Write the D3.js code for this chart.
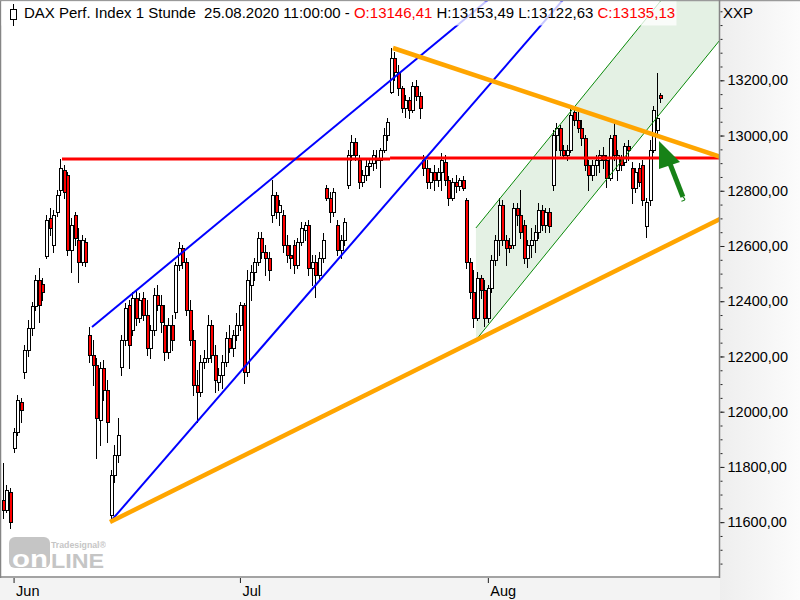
<!DOCTYPE html>
<html><head><meta charset="utf-8">
<script src="https://cdn.jsdelivr.net/npm/d3@7"></script>
<style>
body{margin:0;background:#fff}
svg{display:block}
text{font-family:"Liberation Sans",Arial,sans-serif}
</style>
</head><body>
<svg id="c" width="800" height="600"></svg>
<script>
// ---------------- DATA ----------------
const instrument = "DAX Perf. Index 1 Stunde";
const lastStamp = "25.08.2020 11:00:00";
const axisCode = "XXP";
const tradingDays = ["2020-05-29",
 "2020-06-02","2020-06-03","2020-06-04","2020-06-05","2020-06-08","2020-06-09","2020-06-10","2020-06-11","2020-06-12",
 "2020-06-15","2020-06-16","2020-06-17","2020-06-18","2020-06-19","2020-06-22","2020-06-23","2020-06-24","2020-06-25","2020-06-26",
 "2020-06-29","2020-06-30",
 "2020-07-01","2020-07-02","2020-07-03","2020-07-06","2020-07-07","2020-07-08","2020-07-09","2020-07-10","2020-07-13","2020-07-14",
 "2020-07-15","2020-07-16","2020-07-17","2020-07-20","2020-07-21","2020-07-22","2020-07-23","2020-07-24","2020-07-27","2020-07-28",
 "2020-07-29","2020-07-30","2020-07-31",
 "2020-08-03","2020-08-04","2020-08-05","2020-08-06","2020-08-07","2020-08-10","2020-08-11","2020-08-12","2020-08-13","2020-08-14",
 "2020-08-17","2020-08-18","2020-08-19","2020-08-20","2020-08-21","2020-08-24","2020-08-25"];
const barsPerDay = 3;
const monthCodes = ["06","07","08"];
const monthNames = ["Jun","Jul","Aug"];

const opens = [11680,11644,11709, 11869,11927,12035, 12144,12224,12303, 12383,12477,12462, 12564,12701,12604,
 12723,12803,12875, 12857,12586,12712, 12622,12542,12615, 12278,12205,12169, 11970,12158,12079,
 11626,11771,11843, 12162,12260,12386, 12296,12412,12339, 12412,12350,12231, 12296,12423,12386,
 12314,12216,12314, 12361,12531,12593, 12542,12368,12260, 12097,12071,12180, 12194,12314,12205,
 12108,12133,12180, 12267,12231,12278, 12314,12386,12144, 12459,12506,12542, 12629,12578,12557,
 12712,12785,12723, 12712,12604,12568, 12604,12531,12615, 12658,12676,12520, 12542,12495,12557,
 12810,12774,12723, 12676,12586,12622, 12821,12929,12977, 12911,12832,12857, 12890,12901,12919,
 12911,12948,13002, 13158,13281,13230, 13172,13100,13129, 13092,13179,13143, 12911,12882,12832,
 12868,12839,12868, 12904,12839,12774, 12832,12817,12839, 12767,12542,12433, 12339,12484,12441,
 12339,12448,12549, 12622,12749,12622, 12604,12604,12738, 12712,12676,12557, 12604,12622,12651,
 12730,12676,12723, 12821,13002,13027, 12948,12929,12948, 13085,13056,13027, 12991,12893,12857,
 12893,12911,12929, 12911,12846,13002, 12875,12919,12904, 12962,12882,12810, 12882,12893,12672,
 12767,12948,13020, 13146.41];
const highs = [11814,11735,11724, 11941,12061,12050, 12242,12332,12397, 12495,12520,12484, 12712,12738,12730,
 12803,12915,12893, 12868,12701,12723, 12665,12640,12629, 12307,12260,12194, 12180,12187,12115,
 11789,11880,11977, 12278,12394,12405, 12433,12441,12430, 12433,12405,12314, 12448,12459,12423,
 12386,12339,12350, 12542,12615,12604, 12557,12405,12296, 12151,12205,12224, 12350,12332,12242,
 12158,12205,12289, 12314,12296,12357, 12397,12394,12513, 12531,12557,12651, 12651,12604,12578,
 12839,12796,12767, 12730,12640,12604, 12622,12629,12687, 12687,12694,12568, 12568,12578,12647,
 12821,12796,12810, 12694,12640,12701, 12948,13002,12991, 12929,12875,12911, 12911,12948,12948,
 12955,13027,13063, 13316,13302,13255, 13179,13147,13140, 13194,13201,13158, 12929,12911,12882,
 12893,12882,12937, 12929,12853,12846, 12857,12846,12853, 12774,12557,12513, 12506,12495,12477,
 12459,12568,12640, 12774,12767,12640, 12629,12756,12756, 12803,12694,12622, 12665,12676,12756,
 12749,12738,12738, 13020,13045,13038, 12966,12966,13099, 13100,13085,13056, 13002,12911,12911,
 12929,12948,12958, 12929,13002,13056, 12948,12929,12973, 12984,12904,12882, 12901,12911,12774,
 12984,13107,13226, 13153.49];
const lows = [11615,11637,11579, 11854,11916,11963, 12122,12202,12278, 12368,12325,12405, 12557,12640,12578,
 12709,12785,12774, 12568,12506,12604, 12470,12531,12528, 12180,12097,11832, 11880,12042,11890,
 11604,11745,11818, 12133,12242,12158, 12278,12314,12325, 12332,12205,12194, 12278,12368,12289,
 12187,12194,12224, 12339,12513,12520, 12350,12242,12061, 11963,12057,12158, 12180,12180,12071,
 12079,12086,12165, 12216,12202,12260, 12296,12104,12129, 12405,12477,12531, 12557,12495,12477,
 12687,12701,12676, 12578,12542,12520, 12502,12520,12604, 12622,12495,12459, 12415,12477,12542,
 12767,12687,12709, 12568,12557,12604, 12810,12911,12911, 12810,12817,12839, 12857,12875,12882,
 12814,12940,12984, 13154,13201,13147, 13085,13067,13063, 13085,13129,13063, 12857,12810,12810,
 12803,12817,12803, 12821,12749,12767, 12796,12803,12803, 12520,12412,12307, 12332,12412,12310,
 12325,12434,12531, 12568,12604,12531, 12578,12593,12676, 12629,12538,12524, 12560,12578,12629,
 12658,12651,12651, 12803,12948,12929, 12919,12911,12940, 13038,13013,12966, 12875,12803,12839,
 12857,12868,12882, 12814,12839,12911, 12839,12875,12893, 12911,12756,12796, 12817,12749,12633,
 12749,12940,13006, 13122.63];
const closes = [11644,11717,11601, 11927,12042,12006, 12224,12303,12383, 12477,12386,12434, 12694,12665,12712,
 12785,12882,12796, 12586,12676,12629, 12542,12622,12542, 12205,12169,11977, 12158,12079,11963,
 11771,11843,11916, 12260,12376,12242, 12412,12339,12405, 12350,12231,12296, 12423,12386,12325,
 12216,12314,12260, 12531,12593,12542, 12368,12260,12097, 12071,12180,12194, 12314,12205,12115,
 12133,12180,12267, 12231,12278,12314, 12386,12144,12477, 12506,12542,12629, 12578,12557,12513,
 12785,12723,12749, 12604,12568,12557, 12531,12615,12665, 12676,12520,12542, 12495,12557,12622,
 12774,12723,12796, 12586,12622,12687, 12929,12977,12929, 12832,12857,12890, 12901,12929,12911,
 12948,13002,13049, 13281,13230,13172, 13100,13129,13092, 13179,13143,13100, 12882,12832,12868,
 12839,12868,12911, 12839,12774,12832, 12817,12839,12810, 12542,12433,12339, 12484,12441,12339,
 12448,12549,12622, 12749,12622,12593, 12593,12738,12712, 12651,12557,12604, 12622,12651,12730,
 12676,12723,12672, 13002,13027,12948, 12929,12948,13074, 13056,13027,12991, 12893,12857,12893,
 12911,12929,12911, 12846,12991,12929, 12929,12893,12962, 12948,12810,12868, 12832,12767,12759,
 12948,13092,13063, 13135.13];

const priceTicks = [11600,11800,12000,12200,12400,12600,12800,13000,13200];
const minorTickStep = 50;

// drawing-tool anchors: [bar index, price]
const blueLines   = [[24.55,12306.7, 120.57,13338.7],[29.84,11604.3, 121.4,12977.7]];
const orangeLines = [[29.56,11600.6, 198.8,12694.2],[108.32,13317.0, 198.8,12925.9]];
const redLevels   = [[16.2,107.5,12915],[107.5,199.5,12919]];
const channelBars  = [131.4, 198.8];
const channelLower = [12259.7, 13337.6];
const channelUpper = [12665.2, 13743.1];
const arrowHead  = [[182.35,12980],[182.35,12879],[188.2,12904]];
const arrowShaft = [[185.3,12902],[189.0,12778]];
const arrowHook  = [[189.0,12778],[189.9,12767],[188.6,12762]];

// ---------------- CHART ----------------
const svg = d3.select("#c");
const plotR = 719, plotB = 577;
const x = d3.scaleLinear().domain([-0.5, 199.5]).range([2, 720.6]);
const y = d3.scaleLinear().domain([11401.4, 13490.8]).range([plotB, 0]);
const fmt2 = v => d3.format(".2f")(v).replace(".", ",");
const lineAt = (a, i) => a[1] + (a[3]-a[1])*(i-a[0])/(a[2]-a[0]);

const defs = svg.append("defs");
const gr = defs.append("linearGradient").attr("id","panel").attr("x1","0").attr("x2","1").attr("y1","0").attr("y2","0");
gr.append("stop").attr("offset","0").attr("stop-color","#eeeeee");
gr.append("stop").attr("offset","1").attr("stop-color","#fcfcfc");
defs.append("clipPath").attr("id","clip").append("rect").attr("x",1).attr("y",1).attr("width",plotR-1).attr("height",plotB-1);

svg.append("rect").attr("width",800).attr("height",600).attr("fill","#fff");
svg.append("rect").attr("x",720).attr("y",0).attr("width",80).attr("height",600).attr("fill","url(#panel)");
svg.append("rect").attr("x",0).attr("y",578).attr("width",720).attr("height",22).attr("fill","#f3f3f3");

const g = svg.append("g").attr("clip-path","url(#clip)");

// green channel fill
const iEnd = 199.5;
const chLo = [channelBars[0], channelLower[0], channelBars[1], channelLower[1]];
const chUp = [channelBars[0], channelUpper[0], channelBars[1], channelUpper[1]];
g.append("path")
  .attr("d", d3.line()([
    [x(chLo[0]), y(chLo[1])], [x(chUp[0]), y(chUp[1])],
    [x(iEnd), y(lineAt(chUp, iEnd))], [x(iEnd), y(lineAt(chLo, iEnd))]
  ]) + "Z")
  .attr("fill","#e4f1e4");

// watermark logo
const logo = svg.append("g").attr("opacity",0.85);
logo.append("rect").attr("x",9).attr("y",537).attr("width",41).attr("height",31).attr("rx",6).attr("fill","#bcbcbc");
logo.append("text").attr("x",12).attr("y",567).attr("font-size",24).attr("font-weight","bold")
  .attr("textLength",36).attr("lengthAdjust","spacingAndGlyphs").attr("fill","#fff").text("on");
logo.append("text").attr("x",51).attr("y",568).attr("font-size",20).attr("font-weight","bold")
  .attr("textLength",53).attr("lengthAdjust","spacingAndGlyphs").attr("fill","#bcbcbc").text("LINE");
logo.append("text").attr("x",51).attr("y",548).attr("font-size",9.5).attr("font-weight","bold")
  .attr("textLength",55).attr("lengthAdjust","spacingAndGlyphs").attr("fill","#bcbcbc").text("Tradesignal®");

// candles
const bars = opens.map((o,i)=>({i, o, h:Math.max(highs[i],o,closes[i]), l:Math.min(lows[i],o,closes[i]), c:closes[i]}));
const cg = g.append("g").attr("shape-rendering","crispEdges");
bars.forEach(b => {
  const px = Math.round(x(b.i));
  const top = Math.round(y(Math.max(b.o,b.c))), bot = Math.round(y(Math.min(b.o,b.c)));
  cg.append("line").attr("x1",px-0.5).attr("x2",px-0.5)
    .attr("y1",Math.round(y(b.h))).attr("y2",Math.round(y(b.l))+1).attr("stroke","#000");
  cg.append("rect").attr("x",px-1.5).attr("y",top+0.5).attr("width",3).attr("height",Math.max(bot-top,1))
    .attr("fill", b.c < b.o ? "#ff0000" : "#ffffff").attr("stroke","#000").attr("stroke-width",1);
});

// channel lines
[chLo, chUp].forEach(a => g.append("line")
  .attr("x1",x(a[0])).attr("y1",y(a[1])).attr("x2",x(iEnd)).attr("y2",y(lineAt(a,iEnd)))
  .attr("stroke","#0a8a0a").attr("stroke-width",1));

// red horizontal
redLevels.forEach(r => g.append("line").attr("x1",x(r[0])).attr("x2",x(r[1])).attr("y1",y(r[2])).attr("y2",y(r[2]))
  .attr("stroke","#ff0000").attr("stroke-width",3));

// blue lines
blueLines.forEach(a => g.append("line")
  .attr("x1",x(a[0])).attr("y1",y(a[1])).attr("x2",x(iEnd)).attr("y2",y(lineAt(a,iEnd)))
  .attr("stroke","#0000ff").attr("stroke-width",2));

// orange lines
orangeLines.forEach(a => g.append("line")
  .attr("x1",x(a[0])).attr("y1",y(a[1])).attr("x2",x(iEnd)).attr("y2",y(lineAt(a,iEnd)))
  .attr("stroke","#ffa500").attr("stroke-width",4.5));

// arrow
const arrowColor = "#178217";
g.append("path").attr("d", d3.line()(arrowHead.map(p=>[x(p[0]),y(p[1])]))+"Z").attr("fill",arrowColor);
g.append("line").attr("x1",x(arrowShaft[0][0])).attr("y1",y(arrowShaft[0][1]))
  .attr("x2",x(arrowShaft[1][0])).attr("y2",y(arrowShaft[1][1])).attr("stroke",arrowColor).attr("stroke-width",5);
g.append("path").attr("d", d3.line().curve(d3.curveBasis)(arrowHook.map(p=>[x(p[0]),y(p[1])])))
  .attr("fill","none").attr("stroke",arrowColor).attr("stroke-width",1.2);

// frame
svg.append("line").attr("x1",0.5).attr("x2",0.5).attr("y1",0).attr("y2",578).attr("stroke","#858585").attr("stroke-width",1.5);
svg.append("line").attr("x1",0).attr("x2",800).attr("y1",0.5).attr("y2",0.5).attr("stroke","#9a9a9a").attr("stroke-width",1.5);
svg.append("line").attr("x1",0).attr("x2",720).attr("y1",577).attr("y2",577).attr("stroke","#858585").attr("stroke-width",1.5);
svg.append("line").attr("x1",719.5).attr("x2",719.5).attr("y1",0).attr("y2",578).attr("stroke","#858585").attr("stroke-width",1.5);

// y axis
const minorTicks = d3.range(11450, 13490, minorTickStep);
const yMinor = svg.append("g").attr("transform","translate(720.5,0)")
  .call(d3.axisRight(y).tickValues(minorTicks).tickSize(2).tickFormat(""));
yMinor.select(".domain").remove();
const yAx = svg.append("g").attr("transform","translate(720.5,0)")
  .call(d3.axisRight(y).tickValues(priceTicks).tickSize(4).tickPadding(3).tickFormat(fmt2));
yAx.select(".domain").remove();
yAx.selectAll("text").attr("font-size",14.5).attr("font-family","'Liberation Sans',Arial,sans-serif").attr("fill","#000");
svg.selectAll(".tick line").attr("stroke","#222");
svg.append("text").attr("x",723).attr("y",18).attr("font-size",15).attr("fill","#000").text(axisCode);

// x axis (month starts)
const monthStarts = [];
tradingDays.forEach((d,k) => {
  if (k > 0 && d.slice(5,7) !== tradingDays[k-1].slice(5,7))
    monthStarts.push({bar: k*barsPerDay, label: monthNames[monthCodes.indexOf(d.slice(5,7))]});
});
const xAx = svg.append("g").attr("transform","translate(-1,578)")
  .call(d3.axisBottom(x).tickValues(monthStarts.map(m=>m.bar)).tickSize(5).tickPadding(3)
    .tickFormat((v,k)=>monthStarts[k].label));
xAx.select(".domain").remove();
xAx.selectAll("text").attr("text-anchor","start").attr("dx",2).attr("font-size",14.5)
  .attr("font-family","'Liberation Sans',Arial,sans-serif").attr("fill","#000");
xAx.selectAll(".tick line").attr("stroke","#222");

// header
svg.append("rect").attr("x",1.5).attr("y",1.5).attr("width",675).attr("height",24).attr("fill","#fff").attr("opacity",0.78);
const ic = svg.append("g").attr("shape-rendering","crispEdges");
ic.append("line").attr("x1",13.5).attr("x2",13.5).attr("y1",4).attr("y2",26).attr("stroke","#000");
ic.append("rect").attr("x",10.5).attr("y",9.5).attr("width",6).attr("height",10).attr("fill","#fff").attr("stroke","#000");
const last = opens.length - 1;
const ht = svg.append("text").attr("x",24).attr("y",18).attr("font-size",15).style("white-space","pre");
ht.append("tspan").attr("fill","#000").text(instrument + "  " + lastStamp + " - ");
ht.append("tspan").attr("fill","#ff0000").text("O:" + fmt2(opens[last]));
ht.append("tspan").attr("fill","#000").text(" H:" + fmt2(highs[last]) + " L:" + fmt2(lows[last]) + " ");
ht.append("tspan").attr("fill","#ff0000").text("C:" + fmt2(closes[last]));
</script>
</body></html>
